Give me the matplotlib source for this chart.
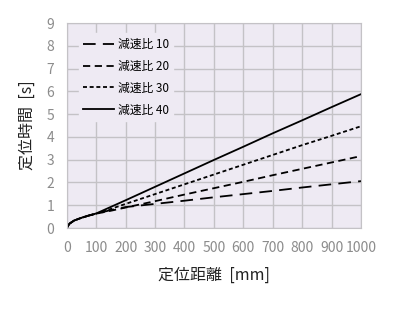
import matplotlib
matplotlib.use("Agg")
import matplotlib.pyplot as plt

plt.rcParams['font.family'] = ['Noto Sans CJK JP', 'DejaVu Sans']

distance = [0, 5, 10, 25, 50, 75, 100, 150, 200, 300, 400, 500, 600, 700, 800, 900, 1000]
ratio10 = [0, 0.12, 0.2, 0.33, 0.45, 0.55, 0.63, 0.79, 0.92, 1.06, 1.2, 1.35, 1.49, 1.63, 1.78, 1.92, 2.06]
ratio20 = [0, 0.12, 0.2, 0.33, 0.45, 0.55, 0.63, 0.76, 0.90, 1.18, 1.47, 1.75, 2.03, 2.32, 2.60, 2.88, 3.16]
ratio30 = [0, 0.12, 0.2, 0.33, 0.45, 0.55, 0.63, 0.84, 1.06, 1.49, 1.92, 2.35, 2.78, 3.21, 3.64, 4.05, 4.47]
ratio40 = [0, 0.12, 0.2, 0.33, 0.45, 0.55, 0.64, 0.93, 1.22, 1.81, 2.40, 2.99, 3.57, 4.16, 4.73, 5.31, 5.88]
labels = ['減速比 10', '減速比 20', '減速比 30', '減速比 40']
xticks = list(range(0, 1001, 100))
yticks = list(range(0, 10))

fig = plt.figure(figsize=(4.0, 3.3), dpi=100)
ax = fig.add_axes([0.167, 0.309, 0.7355, 0.621])
bg = '#eeeaf3'
ax.set_facecolor(bg)

styles = [(0, (7, 4)), (0, (4, 2.5)), (0, (2.2, 1.5)), '-']
for ys, lab, ls in zip([ratio10, ratio20, ratio30, ratio40], labels, styles):
    ax.plot(distance, ys, color='black', linewidth=1.3, linestyle=ls, label=lab)

ax.set_xlim(0, 1000)
ax.set_ylim(0, 9)
ax.set_xticks(xticks)
ax.set_yticks(yticks)
ax.grid(True, color='#c4c2c6', linewidth=1.0)
ax.set_axisbelow(True)
for s in ax.spines.values():
    s.set_color('#c4c2c6')
ax.tick_params(length=0, labelsize=10, colors='#8c8c8c')
ax.tick_params(axis='x', pad=9)
ax.tick_params(axis='y', pad=9)

ax.set_xlabel('定位距離  [mm]', fontsize=11.5, color='#222222', labelpad=9)
ax.set_ylabel('定位時間  [s]', fontsize=11.5, color='#222222', labelpad=8)

leg = ax.legend(loc='upper left', bbox_to_anchor=(0.02, 0.98), frameon=True,
                fontsize=8.5, handlelength=2.6, handletextpad=0.3,
                labelspacing=0.75, borderpad=0.4)
leg.get_frame().set_facecolor(bg)
leg.get_frame().set_edgecolor(bg)
leg.get_frame().set_alpha(1.0)

fig.savefig('out.png', dpi=100)
